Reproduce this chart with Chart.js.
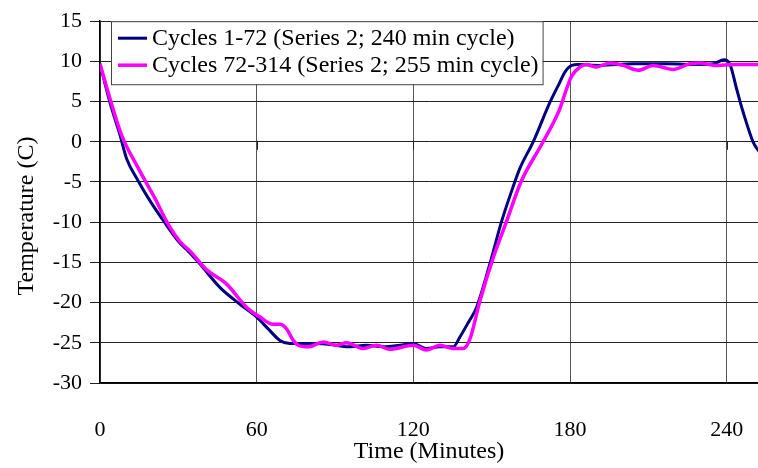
<!DOCTYPE html>
<html>
<head>
<meta charset="utf-8">
<script src="https://cdn.jsdelivr.net/npm/chart.js@4.4.0/dist/chart.umd.min.js"></script>
<style>
  html, body { margin: 0; padding: 0; background: #fff; }
  #wrap { width: 758px; height: 468px; }
</style>
</head>
<body>
<div id="wrap"><canvas id="tempChart"></canvas></div>
<script>
// Series 2 temperature profiles, time in minutes / temperature in C
const labelA = 'Cycles 1-72 (Series 2; 240 min cycle)';
const timeA = [0, 3.8, 7.7, 10.2, 14.7, 18.5, 24.9, 30.6, 33.8, 38.3, 45.9, 53.6, 60, 64.5, 68.9, 72.7, 76.6,
    83, 90, 95.7, 102, 108.5, 115, 120, 125, 130.2, 135.3, 137.8, 141, 144.2, 149.3, 153.8, 158.2, 160.8,
    165.9, 172.3, 176.1, 178.1, 180.7, 183.1, 191.4, 204.2, 217, 229.7, 235, 238.9, 241.2, 243.8, 246.3,
    250.1, 253];
const tempA = [9.7, 4.9, 0.8, -2.1, -4.9, -7.0, -10.1, -12.6, -13.6, -15.2, -18.1, -20.2, -21.8, -23.3, -24.7, -25.1, -25.1,
    -25.1, -25.3, -25.5, -25.3, -25.5, -25.3, -25.1, -25.7, -25.5, -25.5, -24.3, -22.5, -20.6, -15.2, -9.9, -5.6, -3.3,
    0, 4.9, 7.4, 8.7, 9.5, 9.6, 9.5, 9.7, 9.7, 9.6, 9.7, 10.2, 9.7, 6.6, 3.7,
    0, -1.5];

const labelB = 'Cycles 72-314 (Series 2; 255 min cycle)';
const timeB = [0, 3.8, 8.3, 14.7, 21, 26.2, 30.6, 34.5, 40.8, 48.5, 56.2, 61.3, 66.3, 68.9, 71.5, 74, 75.9,
    79.8, 85.5, 90.6, 94.4, 100.8, 105.9, 111, 120, 125, 130.2, 135.3, 139.1, 141.7, 145.5, 150.6, 155.7,
    161.2, 169.7, 176.1, 178.7, 180.7, 183.8, 186.3, 190.1, 195.3, 200.3, 206.1, 211.8, 219.5, 225.9,
    229.7, 236.1, 242.5, 252, 255];
const tempB = [9.7, 5.4, 0.8, -3.3, -7.0, -10.3, -12.4, -13.6, -15.9, -17.7, -20.6, -21.8, -22.7, -22.7, -23.3, -24.7, -25.3,
    -25.5, -24.9, -25.3, -25.0, -25.7, -25.3, -25.8, -25.3, -25.9, -25.3, -25.7, -25.7, -24.5, -19.8, -14.4, -9.9,
    -5.0, 0, 4.1, 6.6, 8.2, 9.3, 9.6, 9.3, 9.8, 9.5, 8.9, 9.5, 9.0, 9.7,
    9.8, 9.5, 9.6, 9.6, 9.6];

const xTicks = [0, 60, 120, 180, 240];
const yMin = -30, yMax = 15, yStep = 5;
const yTitle = 'Temperature (C)';

const serif = "'Liberation Serif', 'Times New Roman', serif";

const toPoints = (xs, ys) => xs.map((x, i) => ({ x: x, y: ys[i] }));

// legend box drawn inside the plot, over the lines
const boxLegend = {
    id: 'boxLegend',
    afterDatasetsDraw(chart) {
        const ctx = chart.ctx;
        const area = chart.chartArea;
        const sets = chart.data.datasets;
        ctx.save();
        ctx.font = '24px ' + serif;
        const textW = Math.max(...sets.map(d => ctx.measureText(d.label).width));
        const x0 = area.left + 11;
        const y0 = area.top;
        const w = 41 + textW + 4;
        const h = 63;
        ctx.fillStyle = '#fff';
        ctx.fillRect(x0, y0, w, h);
        ctx.strokeStyle = '#444';
        ctx.lineWidth = 1;
        ctx.strokeRect(x0 + 0.5, y0 + 0.5, w, h);
        sets.forEach((d, i) => {
            const y = y0 + 17 + i * 27;
            ctx.strokeStyle = d.borderColor;
            ctx.lineWidth = d.borderWidth;
            ctx.beginPath();
            ctx.moveTo(x0 + 7, y);
            ctx.lineTo(x0 + 36, y);
            ctx.stroke();
            ctx.fillStyle = '#000';
            ctx.textBaseline = 'middle';
            ctx.textAlign = 'left';
            ctx.fillText(d.label, x0 + 41, y + 1);
        });
        ctx.restore();
    }
};

// small tick marks where the time axis crosses zero, plus the rotated y title
const axisExtras = {
    id: 'axisExtras',
    afterDraw(chart) {
        const ctx = chart.ctx;
        const xs = chart.scales.x;
        const y0 = chart.scales.y.getPixelForValue(0);
        ctx.save();
        ctx.strokeStyle = '#222';
        ctx.lineWidth = 1;
        xTicks.slice(1).forEach(v => {
            const px = Math.round(xs.getPixelForValue(v)) + 0.5;
            ctx.beginPath();
            ctx.moveTo(px, y0);
            ctx.lineTo(px, y0 + 8);
            ctx.stroke();
        });
        ctx.translate(27, 216);
        ctx.rotate(-Math.PI / 2);
        ctx.font = '24px ' + serif;
        ctx.fillStyle = '#000';
        ctx.textAlign = 'center';
        ctx.textBaseline = 'middle';
        ctx.fillText(yTitle, 0, 0);
        ctx.restore();
    }
};

const ctx = document.getElementById('tempChart').getContext('2d');
const tempChart = new Chart(ctx, {
    type: 'line',
    data: {
        datasets: [
            {
                label: labelA,
                data: toPoints(timeA, tempA),
                borderColor: '#000080',
                borderWidth: 3,
                pointRadius: 0,
                cubicInterpolationMode: 'monotone',
                fill: false,
                order: 1
            },
            {
                label: labelB,
                data: toPoints(timeB, tempB),
                borderColor: '#ff00ff',
                borderWidth: 3.5,
                pointRadius: 0,
                cubicInterpolationMode: 'monotone',
                fill: false,
                order: 0
            }
        ]
    },
    options: {
        responsive: true,
        maintainAspectRatio: false,
        animation: false,
        devicePixelRatio: 1,
        layout: { padding: { top: 19, right: 0, left: 0, bottom: 0 } },
        plugins: {
            legend: { display: false },
            tooltip: { enabled: false }
        },
        scales: {
            x: {
                type: 'linear',
                min: 0,
                max: 252,
                afterBuildTicks: s => { s.ticks = xTicks.map(v => ({ value: v })); },
                afterFit: s => { s.height = 85; s.paddingRight = 0; s.paddingLeft = 0; },
                grid: { color: '#555', lineWidth: 1, drawTicks: false },
                border: { color: '#000', width: 1.5 },
                ticks: { color: '#000', padding: 34, maxRotation: 0, font: { family: serif, size: 22 } },
                title: { display: true, text: 'Time (Minutes)', color: '#000', padding: { bottom: 2 }, font: { family: serif, size: 24 } }
            },
            y: {
                min: yMin,
                max: yMax,
                afterFit: s => { s.width = 100; },
                grid: { color: '#222', lineWidth: 1, tickLength: 10 },
                border: { color: '#000', width: 1.5 },
                ticks: { stepSize: yStep, color: '#000', padding: 8, font: { family: serif, size: 22 } },
                title: { display: false }
            }
        }
    },
    plugins: [boxLegend, axisExtras]
});
</script>
</body>
</html>
